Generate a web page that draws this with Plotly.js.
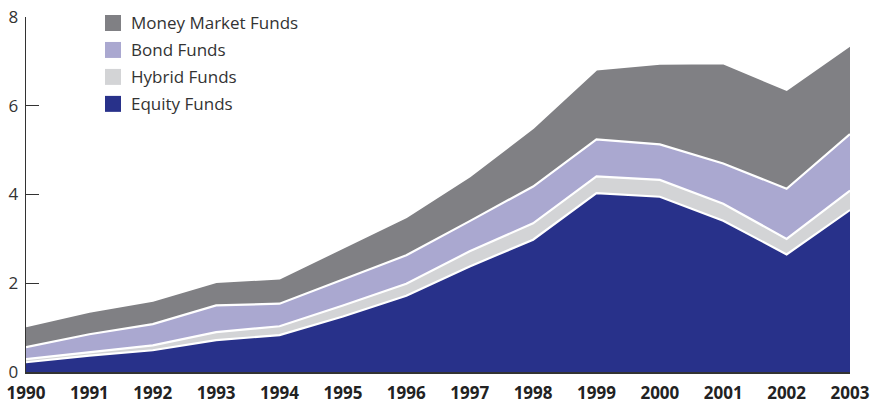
<!DOCTYPE html>
<html>
<head>
<meta charset="utf-8">
<script src="https://cdn.plot.ly/plotly-3.0.1.min.js"></script>
<style>
  html, body { margin: 0; padding: 0; background: #fff; }
  #chart { width: 881px; height: 403px; }
</style>
</head>
<body>
<div id="chart"></div>
<script>
// Data (trillions of dollars)
const years = [1990, 1991, 1992, 1993, 1994, 1995, 1996, 1997, 1998, 1999, 2000, 2001, 2002, 2003];
const equityFunds = [0.22, 0.37, 0.49, 0.72, 0.83, 1.25, 1.72, 2.38, 2.98, 4.03, 3.95, 3.41, 2.65, 3.65];
const hybridFunds = [0.07, 0.07, 0.11, 0.18, 0.20, 0.25, 0.27, 0.34, 0.37, 0.38, 0.38, 0.38, 0.35, 0.44];
const bondFunds = [0.27, 0.41, 0.48, 0.60, 0.51, 0.58, 0.64, 0.68, 0.83, 0.83, 0.80, 0.91, 1.13, 1.27];
const moneyMarketFunds = [0.47, 0.51, 0.53, 0.53, 0.57, 0.72, 0.86, 1.01, 1.32, 1.58, 1.82, 2.26, 2.23, 2.00];
const seriesNames = ['Equity Funds', 'Hybrid Funds', 'Bond Funds', 'Money Market Funds'];
const yTicks = [0, 2, 4, 6, 8];

const seriesValues = [equityFunds, hybridFunds, bondFunds, moneyMarketFunds];
const colors = ['#28318a', '#d3d4d6', '#aaa8d0', '#808084'];

const traces = seriesValues.map((vals, i) => ({
  x: years,
  y: vals,
  name: seriesNames[i],
  type: 'scatter',
  mode: 'lines',
  stackgroup: 'funds',
  fillcolor: colors[i],
  line: { color: '#ffffff', width: 2.2 },
  hoverinfo: 'skip',
  showlegend: false
}));

// Custom legend (top to bottom: Money Market, Bond, Hybrid, Equity)
const shapes = [];
const annotations = [];
const legendOrder = [3, 2, 1, 0];
legendOrder.forEach((idx, row) => {
  const cy = 23 + row * 27; // pixel center
  shapes.push({
    type: 'rect', xref: 'paper', yref: 'paper',
    x0: (105 - 26) / 824, x1: (121 - 26) / 824,
    y0: (372.5 - (cy + 8)) / 355.5, y1: (372.5 - (cy - 8)) / 355.5,
    fillcolor: colors[idx], line: { width: 0 }
  });
  annotations.push({
    xref: 'paper', yref: 'paper',
    x: (129 - 26) / 824, y: (372.5 - cy) / 355.5,
    xanchor: 'left', yanchor: 'middle',
    text: seriesNames[idx], showarrow: false,
    font: { family: 'Open Sans, sans-serif', size: 17, color: '#333333' }
  });
});

const layout = {
  width: 881, height: 403,
  margin: { l: 26, r: 31, t: 17, b: 30.5, pad: 0 },
  paper_bgcolor: '#ffffff', plot_bgcolor: '#ffffff',
  showlegend: false,
  xaxis: {
    range: [1990, 2003],
    tickvals: years,
    ticktext: years.map(String),
    showgrid: false, zeroline: false,
    showline: true, linecolor: '#333333', linewidth: 1.6,
    ticks: '',
    ticklabelstandoff: 5,
    tickfont: { family: 'Open Sans, sans-serif', size: 17, color: '#222222', weight: 'bold' },
    layer: 'above traces',
    fixedrange: true
  },
  yaxis: {
    range: [0, 8],
    tickvals: yTicks,
    showgrid: false, zeroline: false,
    showline: true, linecolor: '#333333', linewidth: 1.3,
    ticks: 'inside', ticklen: 13, tickwidth: 1.3, tickcolor: '#333333',
    ticklabelstandoff: 3,
    tickfont: { family: 'Open Sans, sans-serif', size: 17, color: '#333333' },
    layer: 'above traces',
    fixedrange: true
  },
  shapes: shapes,
  annotations: annotations
};

Plotly.newPlot('chart', traces, layout, { staticPlot: true, displayModeBar: false });
</script>
</body>
</html>
